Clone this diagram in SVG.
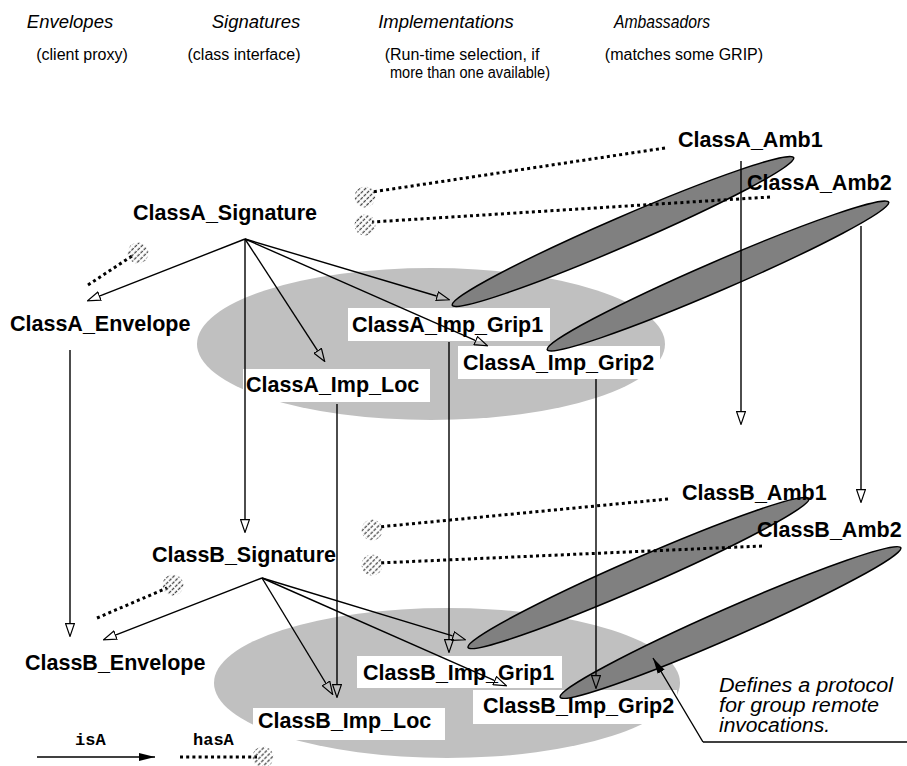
<svg xmlns="http://www.w3.org/2000/svg" width="907" height="766" viewBox="0 0 907 766">
  <style>
    .hdr { font-family: "Liberation Sans", Arial, sans-serif; font-style: italic; font-size: 18.5px; fill: #000; text-anchor: middle; }
    .sub { font-family: "Liberation Sans", Arial, sans-serif; font-size: 16px; fill: #000; text-anchor: middle; }
    .lbl { font-family: "Liberation Sans", Arial, sans-serif; font-weight: bold; font-size: 21.5px; fill: #000; }
    .mono { font-family: "Liberation Mono", "Courier New", monospace; font-weight: bold; font-size: 17px; fill: #000; }
    .note { font-family: "Liberation Sans", Arial, sans-serif; font-style: italic; font-size: 20px; fill: #000; }
    .box { fill: #fff; stroke: none; }
    .grp { fill: #c0c0c0; stroke: none; }
    .proto { fill: #808080; stroke: #000; stroke-width: 1.5; }
    .isa { fill: none; stroke: #000; stroke-width: 1.4; marker-end: url(#open); }
    .hasa { fill: none; stroke: #000; stroke-width: 3; stroke-dasharray: 3 3.2; }
    .hatch { fill: url(#hatchPat); stroke: none; }
  </style>
  <defs>
    <marker id="open" viewBox="0 0 14 10" refX="0" refY="5" markerWidth="14" markerHeight="10" orient="auto" markerUnits="userSpaceOnUse">
      <path d="M0.6,0.6 L13.4,5 L0.6,9.4 Z" fill="none" stroke="#000" stroke-width="1.2"/>
    </marker>
    <marker id="solid" viewBox="0 0 16 10" refX="16" refY="5" markerWidth="16" markerHeight="10" orient="auto" markerUnits="userSpaceOnUse">
      <path d="M0,1 L16,5 L0,9 Z" fill="#000"/>
    </marker>
    <pattern id="hatchPat" width="4.2" height="4.5" patternUnits="userSpaceOnUse" patternTransform="rotate(45)">
      <line x1="1.2" y1="0" x2="1.2" y2="3.2" stroke="#444" stroke-width="1.3"/>
    </pattern>
  </defs>

  <!-- column headings -->
  <g id="headings">
    <text class="hdr" x="70" y="28">Envelopes</text>
    <text class="hdr" x="256" y="28">Signatures</text>
    <text class="hdr" x="446" y="28">Implementations</text>
    <text class="hdr" x="662" y="28" textLength="96" lengthAdjust="spacingAndGlyphs">Ambassadors</text>
    <text class="sub" x="82" y="60">(client proxy)</text>
    <text class="sub" x="244" y="60">(class interface)</text>
    <text class="sub" x="462" y="60">(Run-time selection, if</text>
    <text class="sub" x="470" y="78" textLength="160" lengthAdjust="spacingAndGlyphs">more than one available)</text>
    <text class="sub" x="684" y="60">(matches some GRIP)</text>
  </g>

  <!-- implementation groups -->
  <g id="groupA"><ellipse class="grp" cx="431" cy="344" rx="234" ry="76"/></g>
  <g id="groupB"><ellipse class="grp" cx="447" cy="683" rx="233" ry="75"/></g>

  <!-- label backgrounds inside the groups -->
  <g id="boxes">
    <rect class="box" x="348" y="308" width="202" height="33"/>
    <rect class="box" x="458" y="346" width="202" height="33"/>
    <rect class="box" x="243" y="369" width="187" height="33"/>
    <rect class="box" x="357" y="656" width="205" height="32"/>
    <rect class="box" x="473" y="690" width="204" height="34"/>
    <rect class="box" x="253" y="708" width="192" height="32"/>
  </g>

  <!-- group remote invocation protocols -->
  <g id="protocols">
    <ellipse class="proto" cx="623" cy="231.5" rx="186" ry="14.5" transform="rotate(-23.38 623 231.5)"/>
    <ellipse class="proto" cx="718" cy="276" rx="186" ry="14.5" transform="rotate(-23.38 718 276)"/>
    <ellipse class="proto" cx="638.5" cy="573" rx="186" ry="14.5" transform="rotate(-23.6 638.5 573)"/>
    <ellipse class="proto" cx="730.5" cy="622.5" rx="186" ry="14.5" transform="rotate(-23.7 730.5 622.5)"/>
  </g>

  <!-- nodes -->
  <g id="ClassA_Amb1"><text class="lbl" x="678" y="147">ClassA_Amb1</text></g>
  <g id="ClassA_Amb2"><text class="lbl" x="747" y="190">ClassA_Amb2</text></g>
  <g id="ClassA_Signature"><text class="lbl" x="133" y="220">ClassA_Signature</text></g>
  <g id="ClassA_Envelope"><text class="lbl" x="10" y="331">ClassA_Envelope</text></g>
  <g id="ClassA_Imp_Grip1"><text class="lbl" x="352" y="332">ClassA_Imp_Grip1</text></g>
  <g id="ClassA_Imp_Grip2"><text class="lbl" x="463" y="370">ClassA_Imp_Grip2</text></g>
  <g id="ClassA_Imp_Loc"><text class="lbl" x="246" y="392">ClassA_Imp_Loc</text></g>
  <g id="ClassB_Amb1"><text class="lbl" x="682" y="500">ClassB_Amb1</text></g>
  <g id="ClassB_Amb2"><text class="lbl" x="757" y="537">ClassB_Amb2</text></g>
  <g id="ClassB_Signature"><text class="lbl" x="152" y="562">ClassB_Signature</text></g>
  <g id="ClassB_Envelope"><text class="lbl" x="25" y="670">ClassB_Envelope</text></g>
  <g id="ClassB_Imp_Grip1"><text class="lbl" x="363" y="680">ClassB_Imp_Grip1</text></g>
  <g id="ClassB_Imp_Grip2"><text class="lbl" x="483" y="713">ClassB_Imp_Grip2</text></g>
  <g id="ClassB_Imp_Loc"><text class="lbl" x="258" y="728">ClassB_Imp_Loc</text></g>

  <!-- connectors: isA (solid, open head) and hasA (dotted, hatched end) -->
  <g id="connectors">
    <line class="isa" x1="245" y1="239" x2="100" y2="295.9"/>
    <line class="isa" x1="245" y1="239" x2="317.4" y2="350.3"/>
    <line class="isa" x1="245" y1="239" x2="436.6" y2="296"/>
    <line class="isa" x1="245" y1="239" x2="475.2" y2="340.4"/>
    <line class="isa" x1="245" y1="239" x2="245" y2="519"/>
    <line class="isa" x1="70" y1="350" x2="70" y2="623"/>
    <line class="isa" x1="337" y1="404" x2="337" y2="684"/>
    <line class="isa" x1="449" y1="342" x2="449" y2="639"/>
    <line class="isa" x1="596" y1="379" x2="596" y2="675"/>
    <line class="isa" x1="741" y1="161" x2="741" y2="411"/>
    <line class="isa" x1="861" y1="226" x2="861" y2="489"/>
    <line class="isa" x1="262" y1="578" x2="116" y2="634.9"/>
    <line class="isa" x1="262" y1="578" x2="325.7" y2="683"/>
    <line class="isa" x1="262" y1="578" x2="452.6" y2="635.9"/>
    <line class="isa" x1="262" y1="578" x2="494.2" y2="680.4"/>

    <line class="hasa" x1="88" y1="285" x2="132" y2="256"/>
    <circle class="hatch" cx="138" cy="253" r="10.5"/>
    <line class="hasa" x1="665" y1="148" x2="372" y2="192"/>
    <circle class="hatch" cx="365" cy="197" r="10.5"/>
    <line class="hasa" x1="770" y1="197" x2="372" y2="222"/>
    <circle class="hatch" cx="365" cy="225" r="10.5"/>
    <line class="hasa" x1="97" y1="618" x2="167" y2="588"/>
    <circle class="hatch" cx="173" cy="585" r="10.5"/>
    <line class="hasa" x1="668" y1="499" x2="378" y2="527"/>
    <circle class="hatch" cx="372" cy="530" r="10.5"/>
    <line class="hasa" x1="762" y1="546" x2="378" y2="563"/>
    <circle class="hatch" cx="372" cy="565" r="10.5"/>
  </g>

  <!-- annotation -->
  <g id="note">
    <text class="note" x="719" y="692" textLength="174" lengthAdjust="spacingAndGlyphs">Defines a protocol</text>
    <text class="note" x="719" y="712" textLength="160" lengthAdjust="spacingAndGlyphs">for group remote</text>
    <text class="note" x="719" y="732" textLength="111" lengthAdjust="spacingAndGlyphs">invocations.</text>
    <line x1="907" y1="742" x2="703" y2="742" stroke="#000" stroke-width="1.4"/>
    <line x1="703" y1="742" x2="653" y2="658" stroke="#000" stroke-width="1.4" marker-end="url(#solid)"/>
  </g>

  <!-- legend -->
  <g id="legend">
    <text class="mono" x="75" y="745">isA</text>
    <line x1="37" y1="757" x2="155" y2="757" stroke="#000" stroke-width="1.4" marker-end="url(#solid)"/>
    <text class="mono" x="193" y="745">hasA</text>
    <line class="hasa" x1="180" y1="757" x2="257" y2="757"/>
    <circle class="hatch" cx="263" cy="757" r="10.5"/>
  </g>
</svg>
